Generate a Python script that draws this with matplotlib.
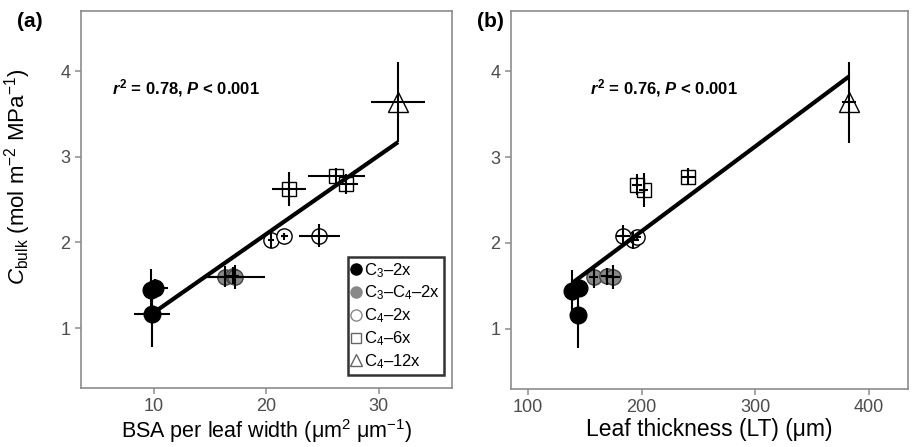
import matplotlib
matplotlib.use('Agg')
import matplotlib.pyplot as plt
from matplotlib.lines import Line2D

plt.rcParams['font.family'] = ['Liberation Sans', 'DejaVu Sans']
plt.rcParams['mathtext.fontset'] = 'custom'
plt.rcParams['mathtext.rm'] = 'Liberation Sans'
plt.rcParams['mathtext.sf'] = 'Liberation Sans:italic'
plt.rcParams['mathtext.it'] = 'Liberation Sans:italic:bold'
plt.rcParams['mathtext.bf'] = 'Liberation Sans:bold'

# --- data ---
groups = ['C3-2x', 'C3-C4-2x', 'C4-2x', 'C4-6x', 'C4-12x']
labels = [r'C$_3$–2x', r'C$_3$–C$_4$–2x', r'C$_4$–2x', r'C$_4$–6x', r'C$_4$–12x']

# C_bulk (shared by both panels) and its error
cbulk = {
    'C3-2x': [1.44, 1.47, 1.16],
    'C3-C4-2x': [1.60, 1.61, 1.60],
    'C4-2x': [2.03, 2.07, 2.08],
    'C4-6x': [2.62, 2.77, 2.68],
    'C4-12x': [3.64],
}
cbulk_err = {
    'C3-2x': [0.25, 0.10, 0.38],
    'C3-C4-2x': [0.12, 0.10, 0.14],
    'C4-2x': [0.10, 0.04, 0.13],
    'C4-6x': [0.20, 0.10, 0.12],
    'C4-12x': [0.47],
}

# panel a: BSA per leaf width
bsa = {
    'C3-2x': [9.7, 10.1, 9.8],
    'C3-C4-2x': [16.3, 17.0, 17.2],
    'C4-2x': [20.4, 21.6, 24.7],
    'C4-6x': [22.0, 26.2, 27.1],
    'C4-12x': [31.7],
}
bsa_err = {
    'C3-2x': [0.6, 1.1, 1.6],
    'C3-C4-2x': [1.6, 0.6, 2.7],
    'C4-2x': [0.3, 0.3, 1.85],
    'C4-6x': [1.55, 2.55, 1.0],
    'C4-12x': [2.4],
}

# panel b: leaf thickness
lt = {
    'C3-2x': [138.7, 144.9, 144.0],
    'C3-C4-2x': [158.0, 169.5, 174.8],
    'C4-2x': [192.4, 195.5, 183.6],
    'C4-6x': [202.0, 240.8, 195.9],
    'C4-12x': [382.4],
}
lt_err = {
    'C3-2x': [3, 4, 3],
    'C3-C4-2x': [4, 5, 6],
    'C4-2x': [5, 4, 6],
    'C4-6x': [4, 6, 4],
    'C4-12x': [6],
}

# regression fits (slope, intercept)
fit_a = (0.0916, 0.267)
fit_b = (0.00988, 0.161)
stats_a = r'$r^{\mathbf{2}}$ = 0.78, $P$ < 0.001'
stats_b = r'$r^{\mathbf{2}}$ = 0.76, $P$ < 0.001'

styles = {
    'C3-2x': dict(marker='o', ms=12, mfc='black', mec='black'),
    'C3-C4-2x': dict(marker='o', ms=11, mfc='#888888', mec='#444444'),
    'C4-2x': dict(marker='o', ms=11, mfc='white', mec='black'),
    'C4-6x': dict(marker='s', ms=9.5, mfc='white', mec='black'),
    'C4-12x': dict(marker='^', ms=14, mfc='white', mec='black'),
}
leg_styles = {
    'C3-2x': dict(marker='o', ms=8, mfc='black', mec='black'),
    'C3-C4-2x': dict(marker='o', ms=8, mfc='#888888', mec='#888888'),
    'C4-2x': dict(marker='o', ms=8, mfc='white', mec='#888888'),
    'C4-6x': dict(marker='s', ms=7, mfc='white', mec='#666666'),
    'C4-12x': dict(marker='^', ms=9, mfc='white', mec='#666666'),
}

fig = plt.figure(figsize=(9.14, 4.47), dpi=100)
ax_a = fig.add_axes([0.0886, 0.132, 0.4059, 0.843])
ax_b = fig.add_axes([0.559, 0.130, 0.4344, 0.845])


def draw_panel(ax, xdata, xerr, fit, stats, text_x):
    for g in groups:
        ax.plot(xdata[g], cbulk[g], ls='none', mew=1.0, zorder=2, **styles[g])
        ax.errorbar(xdata[g], cbulk[g], xerr=xerr[g], yerr=cbulk_err[g],
                    fmt='none', ecolor='black', elinewidth=1.5, capsize=0, zorder=3)
    allx = [v for g in groups for v in xdata[g]]
    x0, x1 = min(allx), max(allx)
    ax.plot([x0, x1], [fit[1] + fit[0] * x0, fit[1] + fit[0] * x1],
            color='black', lw=3, solid_capstyle='butt', zorder=4)
    ax.text(text_x, 3.80, stats, fontsize=12, fontweight='bold', va='center', ha='left')
    ax.set_ylim(0.3, 4.7)
    ax.set_yticks([1, 2, 3, 4])
    for s in ax.spines.values():
        s.set_color('#8c8c8c')
        s.set_linewidth(1.2)
    ax.tick_params(colors='#8c8c8c', labelcolor='#4d4d4d', labelsize=13,
                   length=4, width=1.1)


draw_panel(ax_a, bsa, bsa_err, fit_a, stats_a, 6.3)
ax_a.set_xlim(3.5, 36.5)
ax_a.set_xticks([10, 20, 30])
ax_a.set_xlabel('BSA per leaf width (μm$^{2}$ μm$^{-1}$)', fontsize=15.5, labelpad=1)
ax_a.set_ylabel(r'$\mathsf{C}_{\mathrm{bulk}}$ (mol m$^{-2}$ MPa$^{-1}$)', fontsize=16, labelpad=5)
ax_a.yaxis.set_label_coords(-0.13, 0.56)

draw_panel(ax_b, lt, lt_err, fit_b, stats_b, 154.5)
ax_b.set_xlim(85, 434.3)
ax_b.set_xticks([100, 200, 300, 400])
ax_b.set_xlabel('Leaf thickness (LT) (μm)', fontsize=16.5, labelpad=1)

handles = [Line2D([], [], ls='none', mew=1.0, **leg_styles[g]) for g in groups]
leg = ax_a.legend(handles, labels, loc='lower right', bbox_to_anchor=(0.978, 0.034),
                  borderaxespad=0, fontsize=12, frameon=True, fancybox=False,
                  handlelength=0.5, handletextpad=0.2, labelspacing=0.25,
                  borderpad=0.25)
leg.get_frame().set_edgecolor('black')
leg.get_frame().set_linewidth(1.8)

fig.text(0.019, 0.951, '(a)', fontsize=15, fontweight='bold', va='center')
fig.text(0.522, 0.951, '(b)', fontsize=15, fontweight='bold', va='center')

fig.savefig('out.png', dpi=100)
